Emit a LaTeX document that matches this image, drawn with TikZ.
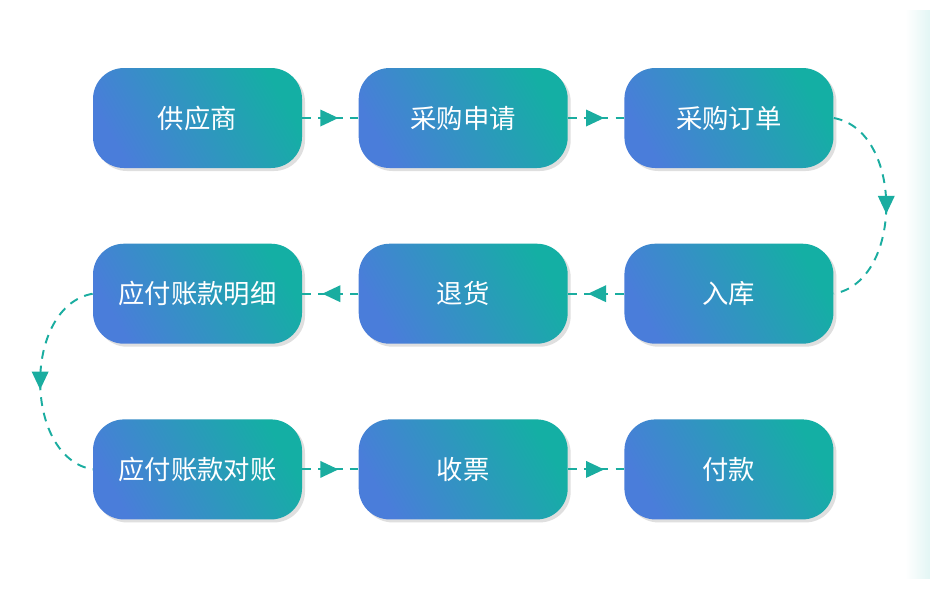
\documentclass[tikz,border=0pt]{standalone}
\usepackage{fontspec}
\setmainfont{Noto Sans CJK SC}
\usetikzlibrary{positioning,shadows,decorations.markings}

\definecolor{flowteal}{HTML}{14AFA4}
\definecolor{flowblue}{HTML}{4A7DDA}
\definecolor{linkteal}{HTML}{1AADA0}

\tikzset{
    stage/.style={draw=none, rectangle, rounded corners=0.62cm, minimum width=4.18cm, minimum height=2cm,
        left color=flowteal, right color=flowblue, shading angle=-60, text=white,
        font=\fontsize{15}{18}\selectfont, drop shadow={opacity=0.25, shadow xshift=0.06cm, shadow yshift=-0.06cm}},
    link/.style={draw=linkteal, line width=1.1pt, dash pattern=on 5pt off 4pt,
        postaction={decorate}, decoration={markings, mark=at position 0.5 with {\fill[linkteal] (-0.2cm,0.17cm) -- (0.16cm,0) -- (-0.2cm,-0.17cm) -- cycle;}}}
}

\begin{document}
\begin{tikzpicture}
    \useasboundingbox (0,0) rectangle (18.6,-11.88);
    \fill[white] (0,0) rectangle (18.6,-11.88);
    \shade[left color=white, right color=flowteal!12] (18.1,-0.2) rectangle (18.6,-11.56);

    % First row
    \node[stage] (supplier) at (3.95,-2.36) {供应商};
    \node[stage, right=1.12cm of supplier] (request) {采购申请};
    \node[stage, right=1.12cm of request] (order) {采购订单};

    % Second row
    \node[stage, below=1.5cm of order] (stock) {入库};
    \node[stage, below=1.5cm of request] (retgoods) {退货};
    \node[stage, below=1.5cm of supplier] (payable) {应付账款明细};

    % Third row
    \node[stage, below=1.5cm of payable] (reconcile) {应付账款对账};
    \node[stage, below=1.5cm of retgoods] (invoice) {收票};
    \node[stage, below=1.5cm of stock] (payment) {付款};

    % Connections
    \draw[link] (supplier) -- (request);
    \draw[link] (request) -- (order);
    \draw[link] (order.east) .. controls +(1.4,-0.25) and +(1.4,0.25) .. (stock.east);
    \draw[link] (stock) -- (retgoods);
    \draw[link] (retgoods) -- (payable);
    \draw[link] (payable.west) .. controls +(-1.4,-0.25) and +(-1.4,0.25) .. (reconcile.west);
    \draw[link] (reconcile) -- (invoice);
    \draw[link] (invoice) -- (payment);
\end{tikzpicture}
\end{document}
